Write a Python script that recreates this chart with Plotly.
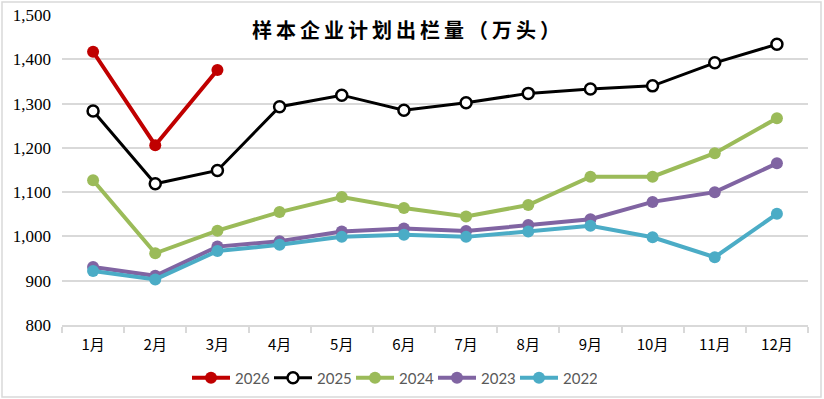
import plotly.graph_objects as go

months = ["1月", "2月", "3月", "4月", "5月", "6月", "7月", "8月", "9月", "10月", "11月", "12月"]
s2026 = [1417, 1206, 1376]
s2025 = [1283, 1119, 1149, 1293, 1319, 1285, 1302, 1323, 1333, 1340, 1392, 1434]
s2024 = [1127, 962, 1013, 1055, 1089, 1064, 1045, 1071, 1135, 1135, 1188, 1267]
s2023 = [931, 911, 977, 989, 1011, 1018, 1012, 1026, 1039, 1078, 1100, 1165]
s2022 = [922, 903, 967, 981, 999, 1004, 999, 1011, 1024, 998, 953, 1051]
title_text = "样本企业计划出栏量（万头）"

W, H = 824, 399
L, R, T, B = 62, 16, 15, 74
pw, ph = W - L - R, H - T - B

def px_to_paper_x(x):
    return (x - L) / pw

def px_to_paper_y(y):
    return (H - B - y) / ph

fig = go.Figure()

series = [
    ("2026", s2026, "#C00000", "#C00000", "#C00000", 4),
    ("2025", s2025, "#000000", "#FFFFFF", "#000000", 3),
    ("2024", s2024, "#9BBB59", "#9BBB59", "#9BBB59", 4),
    ("2023", s2023, "#8064A2", "#8064A2", "#8064A2", 4),
    ("2022", s2022, "#4BACC6", "#4BACC6", "#4BACC6", 4),
]
for name, vals, lc, mfill, mline, lw in series:
    fig.add_trace(go.Scatter(
        x=months[:len(vals)], y=vals, name=name, mode="lines+markers",
        line=dict(color=lc, width=lw),
        marker=dict(size=12 if name != "2025" else 11, color=mfill,
                    line=dict(color=mline, width=2.5 if name == "2025" else 0)),
    ))

spaced_title = "\u2009".join(title_text)

fig.update_layout(
    width=W, height=H,
    margin=dict(l=L, r=R, t=T, b=B, autoexpand=False),
    paper_bgcolor="white", plot_bgcolor="white",
    showlegend=True,
    legend=dict(orientation="h", x=px_to_paper_x(187), xanchor="left",
                yref="container", y=1 - 378 / H, yanchor="middle",
                font=dict(family="Lato, Liberation Sans, sans-serif", size=15, color="#595959"),
                itemwidth=38, entrywidth=29, tracegroupgap=0, bgcolor="rgba(0,0,0,0)"),
    annotations=[dict(text="<b>" + spaced_title + "</b>", xref="paper", yref="paper",
                      x=px_to_paper_x(406), y=px_to_paper_y(30), xanchor="center", yanchor="middle",
                      showarrow=False,
                      font=dict(family="Noto Sans CJK SC, sans-serif", size=20, color="#000000"))],
    shapes=[dict(type="rect", xref="paper", yref="paper",
                 x0=px_to_paper_x(2), x1=px_to_paper_x(821),
                 y0=px_to_paper_y(397), y1=px_to_paper_y(2),
                 line=dict(color="#D9D9D9", width=1.5), fillcolor="rgba(0,0,0,0)", layer="below")],
)

fig.update_xaxes(
    type="category", categoryorder="array", categoryarray=months,
    range=[-0.5, 11.5], automargin=False,
    showgrid=False, showline=True, linecolor="#D9D9D9", linewidth=1.5,
    ticks="outside", tickson="boundaries", ticklen=6, tickcolor="#D9D9D9", tickwidth=1.5,
    tickfont=dict(family="Noto Sans CJK SC, sans-serif", size=15, color="#000000"),
    ticklabelstandoff=5,
)
fig.update_yaxes(
    range=[800, 1500], dtick=100, tick0=800, tickformat=",", automargin=False,
    showgrid=True, gridcolor="#D9D9D9", gridwidth=1.5,
    zeroline=False, showline=False,
    tickfont=dict(family="Liberation Serif, serif", size=17, color="#000000"),
    ticklabelstandoff=10,
)

fig.write_html("out.html", config={"displayModeBar": False},
               post_script="document.body.style.margin='0';document.body.style.overflow='hidden';")
